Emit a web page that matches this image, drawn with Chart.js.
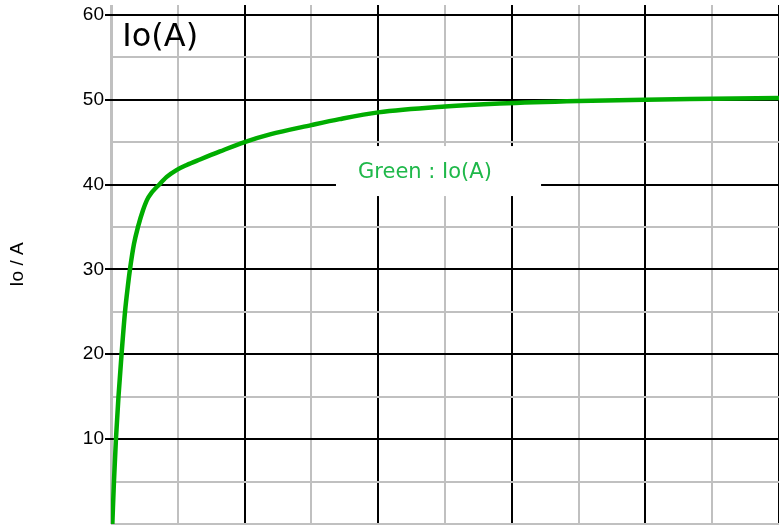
<!DOCTYPE html>
<html>
<head>
<meta charset="utf-8">
<script src="https://cdn.jsdelivr.net/npm/chart.js@4"></script>
<style>
  html, body { margin: 0; padding: 0; background: #fff; }
  #wrap { width: 779px; height: 525px; position: relative; }
</style>
</head>
<body>
<div id="wrap"><canvas id="chart"></canvas></div>
<script>
// time axis (arbitrary units, 5 major divisions) and Io in A
const tVals = [0.01, 0.022, 0.037, 0.056, 0.079, 0.105, 0.126, 0.142, 0.172, 0.202, 0.24, 0.28, 0.367, 0.417, 0.49, 0.567, 0.666, 0.816,
               1.0, 1.19, 1.5, 1.71, 2.0, 2.5, 2.91, 3.5, 4.0, 4.5, 5.0];
const ioVals = [0, 5, 10, 15, 20, 25, 28, 30, 33, 35, 37, 38.5, 40.1, 40.9, 41.7, 42.3, 42.95, 43.9,
                45.0, 45.9, 47.0, 47.7, 48.5, 49.2, 49.55, 49.85, 50.0, 50.1, 50.2];
const yTickVals = [0, 5, 10, 15, 20, 25, 30, 35, 40, 45, 50, 55, 60];
const yLabelVals = [10, 20, 30, 40, 50, 60];

const BLACK = "#000000";
const GREY = "#c0c0c0";

const labelsPlugin = {
  id: "labels",
  afterDatasetsDraw(chart){
    const {ctx, scales:{x, y}} = chart;
    ctx.save();
    // legend box
    const bx1 = x.getPixelForValue(1.684), bx2 = x.getPixelForValue(3.219);
    const by1 = y.getPixelForValue(44.53), by2 = y.getPixelForValue(38.64);
    ctx.fillStyle = "#fff";
    ctx.fillRect(bx1, by1, bx2 - bx1, by2 - by1);
    ctx.fillStyle = "#1fb84a";
    ctx.font = "21px 'DejaVu Sans'";
    ctx.textAlign = "center";
    ctx.textBaseline = "middle";
    ctx.fillText("Green : Io(A)", x.getPixelForValue(2.35), y.getPixelForValue(41.4));
    // panel name
    ctx.fillStyle = "#000";
    ctx.font = "32px 'DejaVu Sans'";
    ctx.textAlign = "left";
    ctx.fillText("Io(A)", x.getPixelForValue(0.085), y.getPixelForValue(57.3));
    ctx.restore();
  }
};

const ctx = document.getElementById("chart").getContext("2d");
new Chart(ctx, {
  type: "line",
  data: {
    datasets: [{
      data: tVals.map((t, i) => ({ x: t, y: ioVals[i] })),
      borderColor: "#00ad00",
      borderWidth: 4.5,
      pointRadius: 0,
      cubicInterpolationMode: "monotone",
      fill: false
    }]
  },
  options: {
    responsive: true,
    maintainAspectRatio: false,
    animation: false,
    layout: { padding: { top: 5, left: 0, right: 0, bottom: 0 } },
    plugins: { legend: { display: false }, tooltip: { enabled: false } },
    scales: {
      x: {
        type: "linear",
        min: 0,
        max: 5,
        ticks: { display: false, stepSize: 0.5 },
        border: { display: false },
        grid: {
          drawTicks: false,
          color: (c) => (c.tick.value > 0 && Number.isInteger(c.tick.value)) ? BLACK : GREY,
          lineWidth: (c) => c.tick.value === 0 ? 3 : 2
        },
        afterFit: (s) => { s.height = 1; s.paddingLeft = 0; s.paddingRight = 0; }
      },
      y: {
        min: 0,
        max: 61.15,
        afterBuildTicks: (s) => { s.ticks = yTickVals.map(v => ({ value: v })); },
        afterFit: (s) => { s.width = 111; s.paddingTop = 0; s.paddingBottom = 0; },
        border: { display: false },
        title: {
          display: true,
          text: "Io / A",
          color: "#000",
          font: { family: "'Liberation Sans', Arial", size: 19 },
          padding: { top: 6, bottom: 0 }
        },
        ticks: {
          color: "#000",
          padding: 1,
          font: { family: "'Liberation Sans', Arial", size: 19 },
          callback: (v) => yLabelVals.includes(v) ? String(v) : ""
        },
        grid: {
          tickLength: 6,
          color: (c) => yLabelVals.includes(c.tick.value) ? BLACK : GREY,
          tickColor: (c) => yLabelVals.includes(c.tick.value) ? BLACK : "rgba(0,0,0,0)",
          lineWidth: 2
        }
      }
    }
  },
  plugins: [labelsPlugin]
});
</script>
</body>
</html>
